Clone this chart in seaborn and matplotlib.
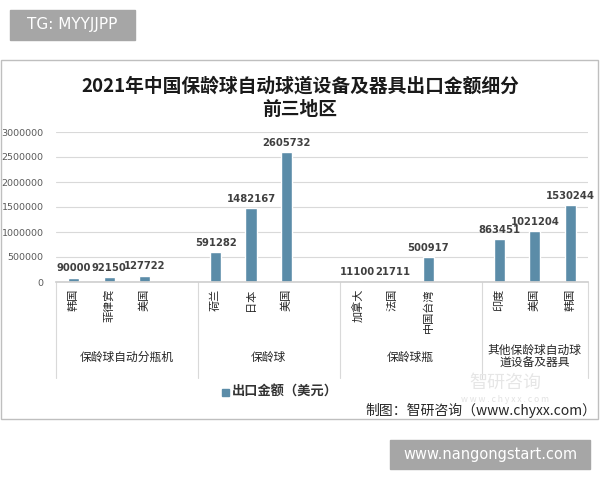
import seaborn as sns
import matplotlib.pyplot as plt
import pandas as pd
from matplotlib.patches import Rectangle

groups = ["保龄球自动分瓶机", "保龄球", "保龄球瓶", "其他保龄球自动球\n道设备及器具"]
countries = [
    ["韩国", "菲律宾", "美国"],
    ["荷兰", "日本", "美国"],
    ["加拿大", "法国", "中国台湾"],
    ["印度", "美国", "韩国"],
]
values = [
    [90000, 92150, 127722],
    [591282, 1482167, 2605732],
    [11100, 21711, 500917],
    [863451, 1021204, 1530244],
]
yticks = [0, 500000, 1000000, 1500000, 2000000, 2500000, 3000000]

sns.set_theme(style="white")
plt.rcParams["font.family"] = ["Noto Sans CJK SC", "DejaVu Sans"]

# one slot per bar plus an empty slot after each group (Excel multi-level axis look)
rows = []
order = []
labels = []
for gi, g in enumerate(groups):
    for c, v in zip(countries[gi], values[gi]):
        key = f"{gi}-{c}"
        rows.append({"key": key, "value": v})
        order.append(key)
        labels.append(c)
    if gi < len(groups) - 1:
        order.append(f"gap{gi}")
        labels.append("")
df = pd.DataFrame(rows)

fig = plt.figure(figsize=(6, 4.8), dpi=100)
ax = fig.add_axes([56 / 600, 1 - 282 / 480, 532 / 600, 150 / 480])

sns.barplot(data=df, x="key", y="value", order=order, color="#5b8ca8",
            width=0.32, saturation=1, ax=ax)

ax.set_xlim(-0.5, len(order) - 0.5)
ax.set_ylim(0, 3000000)
ax.set_yticks(yticks)
ax.set_yticklabels([str(t) for t in yticks], fontsize=6.8, color="#595959",
                   family="DejaVu Sans")
ax.yaxis.grid(True, color="#d9d9d9", linewidth=0.8)
ax.set_axisbelow(True)
for s in ["top", "right", "left"]:
    ax.spines[s].set_visible(False)
ax.spines["bottom"].set_color("#d0d0d0")
ax.tick_params(axis="y", length=0, pad=9)
ax.tick_params(axis="x", length=0, pad=5)
ax.set_xticks(range(len(order)))
ax.set_xticklabels(labels, rotation=90, fontsize=8, color="#262626", va="top")
ax.set_xlabel("")
ax.set_ylabel("")

# data labels
for cont in ax.containers:
    ax.bar_label(cont, fmt="%d", padding=3, fontsize=7.2, fontweight="bold",
                 color="#404040", family="DejaVu Sans")

# group separators and group labels
trans = ax.get_xaxis_transform()
bounds = [-0.5, 3.5, 7.5, 11.5, len(order) - 0.5]
for b in bounds:
    ax.plot([b, b], [0, -0.64], transform=trans, color="#d9d9d9",
            linewidth=0.8, clip_on=False)
for gi, g in enumerate(groups):
    mid = (bounds[gi] + bounds[gi + 1]) / 2
    ax.text(mid, -0.50, g, transform=trans, ha="center", va="center",
            fontsize=8.5, color="#262626", linespacing=1.05)

# title
fig.text(0.5, 1 - 86 / 480, "2021年中国保龄球自动球道设备及器具出口金额细分",
         ha="center", va="center", fontsize=13.5, fontweight="bold", color="#1a1a1a")
fig.text(0.5, 1 - 109 / 480, "前三地区", ha="center", va="center",
         fontsize=13.5, fontweight="bold", color="#1a1a1a")

# legend
fig.patches.append(Rectangle((222 / 600, 1 - 396 / 480), 7 / 600, 7 / 480,
                             transform=fig.transFigure, color="#5b8ca8"))
fig.text(232 / 600, 1 - 392 / 480, "出口金额（美元）", ha="left", va="center",
         fontsize=9.5, fontweight="bold", color="#333333")

# watermark and source
fig.text(505 / 600, 1 - 383 / 480, "智研咨询", ha="center", va="center",
         fontsize=13, color="#e6e6e6", zorder=0)
fig.text(505 / 600, 1 - 399.5 / 480, "w w w . c h y x x . c o m", ha="center",
         va="center", fontsize=6.2, color="#e3e3e3", zorder=0)
fig.text(596 / 600, 1 - 410.5 / 480, "制图：智研咨询（www.chyxx.com）", ha="right",
         va="center", fontsize=10, color="#262626")

# chart frame
fig.patches.append(Rectangle((1 / 600, 1 - 419 / 480), 597 / 600, 359 / 480,
                             transform=fig.transFigure, fill=False,
                             edgecolor="#bfbfbf", linewidth=1))

# overlay tags
fig.patches.append(Rectangle((10 / 600, 1 - 40 / 480), 125 / 600, 30 / 480,
                             transform=fig.transFigure, color="#a6a6a6"))
fig.text(72 / 600, 1 - 25 / 480, "TG: MYYJJPP", ha="center", va="center",
         fontsize=11, color="white", family="DejaVu Sans")
fig.patches.append(Rectangle((390 / 600, 1 - 469 / 480), 200 / 600, 29 / 480,
                             transform=fig.transFigure, color="#a6a6a6"))
fig.text(490 / 600, 1 - 455 / 480, "www.nangongstart.com", ha="center",
         va="center", fontsize=10.5, color="white", family="DejaVu Sans")

fig.savefig("out.png", dpi=100)
